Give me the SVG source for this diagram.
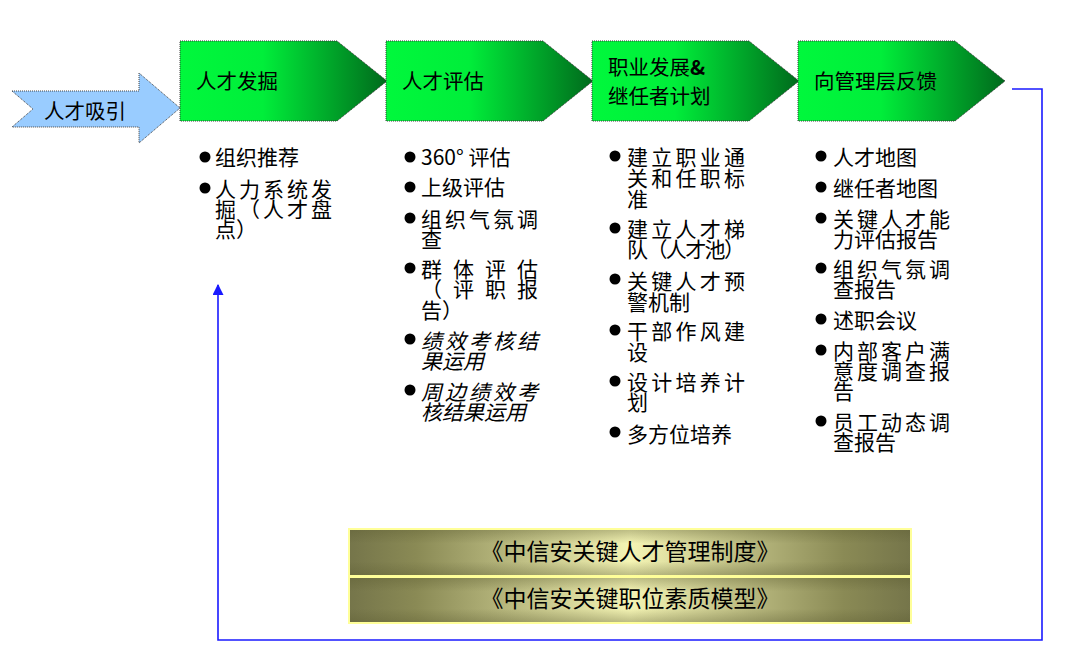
<svg xmlns="http://www.w3.org/2000/svg" width="1080" height="662" viewBox="0 0 1080 662">
<defs>
<linearGradient id="gGreen" x1="0" y1="0" x2="1" y2="0">
<stop offset="0" stop-color="#00F83C"/>
<stop offset="0.4" stop-color="#00EE3A"/>
<stop offset="1" stop-color="#006A1C"/>
</linearGradient>
<linearGradient id="gOlive" x1="0" y1="0" x2="1" y2="0">
<stop offset="0" stop-color="#75754A"/>
<stop offset="0.12" stop-color="#8A8A55"/>
<stop offset="0.5" stop-color="#F4F4B4"/>
<stop offset="0.88" stop-color="#8A8A55"/>
<stop offset="1" stop-color="#75754A"/>
</linearGradient>
<linearGradient id="gShade" x1="0" y1="0" x2="0" y2="1">
<stop offset="0" stop-color="#5A5A30" stop-opacity="0.35"/>
<stop offset="0.3" stop-color="#5A5A30" stop-opacity="0"/>
<stop offset="0.7" stop-color="#5A5A30" stop-opacity="0"/>
<stop offset="1" stop-color="#5A5A30" stop-opacity="0.35"/>
</linearGradient>
<marker id="arr" viewBox="0 0 10 10" refX="9" refY="5" markerWidth="11" markerHeight="11" markerUnits="userSpaceOnUse" orient="auto">
<path d="M0,0 L10,5 L0,10 Z" fill="#1A1AFF"/>
</marker>
</defs>
<style>
.chev{fill:url(#gGreen);stroke:#333;stroke-width:1;stroke-dasharray:1 1;}
.head{font-family:"Noto Sans CJK SC","Noto Sans",sans-serif;font-size:20.5px;fill:#000;}
.body{font-family:"Noto Sans CJK SC","Noto Sans",sans-serif;font-size:21px;fill:#000;}
.it{font-style:italic;}
.dot{fill:#000;}
.bar{fill:url(#gOlive);stroke:#FFFF99;stroke-width:2;}
.shade{fill:url(#gShade);}
.bartxt{font-family:"Noto Sans CJK SC","Noto Sans",sans-serif;font-size:23px;fill:#000;text-anchor:middle;}
.conn{fill:none;stroke:#1A1AFF;stroke-width:1.6;}
</style>
<rect width="1080" height="662" fill="#FFFFFF"/>

<g id="attract">
<path d="M12,91 L139,91 L139,73 L180,108 L139,143 L139,127 L12,127 L33,109 Z" fill="#99CCFF" stroke="#444" stroke-width="1" stroke-dasharray="1 1"/>
<text class="head" x="44" y="119">人才吸引</text>
</g>

<g id="stage1">
<path class="chev" d="M180,41 L337,41 L387,81 L337,121 L180,121 Z"/>
<text class="head" x="196" y="89">人才发掘</text>
</g>
<g id="stage2">
<path class="chev" d="M386,41 L543,41 L593,81 L543,121 L386,121 Z"/>
<text class="head" x="402" y="89">人才评估</text>
</g>
<g id="stage3">
<path class="chev" d="M592,41 L749,41 L799,81 L749,121 L592,121 Z"/>
<text class="head" x="608" y="75"><tspan>职业发展</tspan><tspan font-weight="bold">&amp;</tspan><tspan x="608" y="104">继任者计划</tspan></text>
</g>
<g id="stage4">
<path class="chev" d="M798,41 L955,41 L1005,81 L955,121 L798,121 Z"/>
<text class="head" x="814" y="89">向管理层反馈</text>
</g>

<g id="list1">
<circle class="dot" cx="205" cy="157" r="5.5"/>
<text class="body" x="215" y="165">组织推荐</text>
<circle class="dot" cx="205" cy="188" r="5.5"/>
<text class="body"><tspan x="215" y="197" textLength="117" lengthAdjust="spacing">人力系统发</tspan><tspan x="215" y="217" textLength="117" lengthAdjust="spacing">掘（人才盘</tspan><tspan x="215" y="237">点）</tspan></text>
</g>

<g id="list2">
<circle class="dot" cx="410" cy="157" r="5.5"/>
<text class="body" x="421" y="165">360° 评估</text>
<circle class="dot" cx="410" cy="187" r="5.5"/>
<text class="body" x="421" y="195">上级评估</text>
<circle class="dot" cx="410" cy="218" r="5.5"/>
<text class="body"><tspan x="421" y="227" textLength="117" lengthAdjust="spacing">组织气氛调</tspan><tspan x="421" y="247">查</tspan></text>
<circle class="dot" cx="410" cy="268" r="5.5"/>
<text class="body"><tspan x="421" y="277" textLength="117" lengthAdjust="spacing">群体评估</tspan><tspan x="421" y="297" textLength="117" lengthAdjust="spacing">（评职报</tspan><tspan x="421" y="318">告）</tspan></text>
<circle class="dot" cx="410" cy="339" r="5.5"/>
<text class="body it"><tspan x="421" y="349" textLength="117" lengthAdjust="spacing">绩效考核结</tspan><tspan x="421" y="369">果运用</tspan></text>
<circle class="dot" cx="410" cy="390" r="5.5"/>
<text class="body it"><tspan x="421" y="400" textLength="117" lengthAdjust="spacing">周边绩效考</tspan><tspan x="421" y="420">核结果运用</tspan></text>
</g>

<g id="list3">
<circle class="dot" cx="615" cy="156" r="5.5"/>
<text class="body"><tspan x="627" y="165" textLength="118" lengthAdjust="spacing">建立职业通</tspan><tspan x="627" y="186" textLength="118" lengthAdjust="spacing">关和任职标</tspan><tspan x="627" y="207">准</tspan></text>
<circle class="dot" cx="615" cy="228" r="5.5"/>
<text class="body"><tspan x="627" y="237" textLength="118" lengthAdjust="spacing">建立人才梯</tspan><tspan x="627" y="257" textLength="118" lengthAdjust="spacing">队（人才池）</tspan></text>
<circle class="dot" cx="615" cy="279" r="5.5"/>
<text class="body"><tspan x="627" y="289" textLength="118" lengthAdjust="spacing">关键人才预</tspan><tspan x="627" y="310">警机制</tspan></text>
<circle class="dot" cx="615" cy="330" r="5.5"/>
<text class="body"><tspan x="627" y="339" textLength="118" lengthAdjust="spacing">干部作风建</tspan><tspan x="627" y="360">设</tspan></text>
<circle class="dot" cx="615" cy="381" r="5.5"/>
<text class="body"><tspan x="627" y="390" textLength="118" lengthAdjust="spacing">设计培养计</tspan><tspan x="627" y="410">划</tspan></text>
<circle class="dot" cx="615" cy="432" r="5.5"/>
<text class="body" x="627" y="442">多方位培养</text>
</g>

<g id="list4">
<circle class="dot" cx="821" cy="156" r="5.5"/>
<text class="body" x="833" y="165">人才地图</text>
<circle class="dot" cx="821" cy="187" r="5.5"/>
<text class="body" x="833" y="196">继任者地图</text>
<circle class="dot" cx="821" cy="218" r="5.5"/>
<text class="body"><tspan x="833" y="227" textLength="117" lengthAdjust="spacing">关键人才能</tspan><tspan x="833" y="247">力评估报告</tspan></text>
<circle class="dot" cx="821" cy="268" r="5.5"/>
<text class="body"><tspan x="833" y="277" textLength="117" lengthAdjust="spacing">组织气氛调</tspan><tspan x="833" y="297">查报告</tspan></text>
<circle class="dot" cx="821" cy="319" r="5.5"/>
<text class="body" x="833" y="328">述职会议</text>
<circle class="dot" cx="821" cy="350" r="5.5"/>
<text class="body"><tspan x="833" y="359" textLength="117" lengthAdjust="spacing">内部客户满</tspan><tspan x="833" y="379" textLength="117" lengthAdjust="spacing">意度调查报</tspan><tspan x="833" y="399">告</tspan></text>
<circle class="dot" cx="821" cy="421" r="5.5"/>
<text class="body"><tspan x="833" y="430" textLength="117" lengthAdjust="spacing">员工动态调</tspan><tspan x="833" y="450">查报告</tspan></text>
</g>

<g id="policy1">
<rect class="bar" x="349" y="529" width="562" height="47"/>
<rect class="shade" x="350" y="530" width="560" height="45"/>
<text class="bartxt" x="630" y="560">《中信安关键人才管理制度》</text>
</g>
<g id="policy2">
<rect class="bar" x="349" y="577" width="562" height="46"/>
<rect class="shade" x="350" y="578" width="560" height="44"/>
<text class="bartxt" x="630" y="607">《中信安关键职位素质模型》</text>
</g>

<g id="connectors">
<path class="conn" d="M1012,89 L1042,89 L1042,640 L218,640 L218,285" marker-end="url(#arr)"/>
</g>
</svg>
